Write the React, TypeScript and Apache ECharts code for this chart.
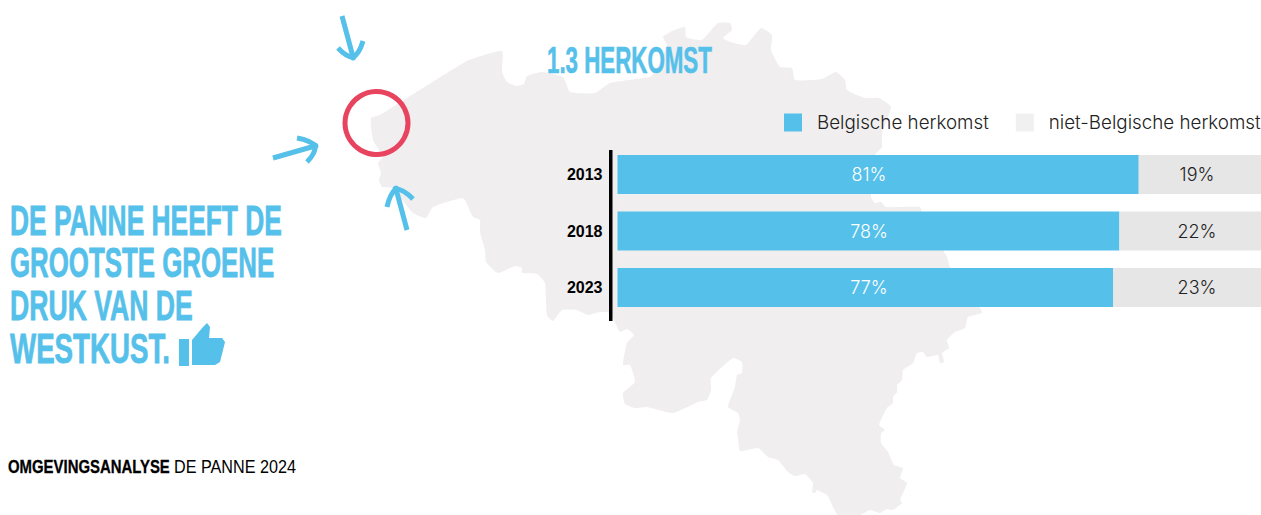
import React, { useEffect, useRef } from "react";
import * as echarts from "echarts";

const years = ["2013", "2018", "2023"];
const belgian = [81, 78, 77];
const nonBelgian = [19, 22, 23];
const seriesNames = ["Belgische herkomst", "niet-Belgische herkomst"];

const BLUE = "#55c0ea";
const MAP = "#f0eeef";
const HEAVY = '"Liberation Sans", Roboto, sans-serif';
const BODY = 'Inter, "Noto Sans", sans-serif';

const GRID_LEFT = 617.5;
const GRID_W = 643.5;
const LABEL_A = 869 - GRID_LEFT;
const LABEL_B = 1197 - GRID_LEFT;

const belgiumOutline = [
  [371, 118], [380, 115], [467, 61], [502, 51], [502, 72], [507, 82], [517, 86], [524, 84], [527, 76], [542, 72],
  [563, 77], [570, 92], [595, 93], [610, 83], [650, 77], [655, 72], [661, 60], [667, 45], [663, 37], [672, 31],
  [685, 27], [686, 37], [702, 40], [718, 23], [730, 23], [732, 30], [723, 38], [730, 42], [746, 45], [761, 28], [772, 35], [771, 50], [780, 67],
  [792, 68], [795, 80], [822, 79], [836, 72], [845, 80], [847, 90], [865, 98], [879, 98], [891, 107], [882, 133],
  [882, 147], [875, 155], [871, 197], [875, 203], [881, 202], [886, 207], [920, 207], [922, 212], [947, 257],
  [950, 267], [980, 308], [982, 313], [968, 317], [965, 328], [955, 332], [947, 340], [949, 348], [942, 353],
  [944, 362], [940, 363], [938, 355], [927, 357], [923, 352], [917, 353], [913, 363], [903, 370], [902, 380],
  [897, 385], [897, 392], [893, 397], [893, 403], [887, 408], [879, 425], [885, 430], [881, 433], [881, 443],
  [888, 452], [894, 465], [903, 468], [900, 478], [907, 483], [900, 500], [902, 503], [893, 510], [887, 509],
  [880, 513], [870, 510], [860, 515], [838, 515], [833, 507], [827, 495], [817, 490], [815, 493], [812, 492],
  [813, 483], [805, 474], [795, 476], [788, 472], [778, 460], [768, 457], [758, 448], [740, 451], [738, 437],
  [737, 433], [740, 420], [738, 413], [728, 407], [735, 387], [737, 375], [742, 373], [742, 362], [733, 358],
  [711, 378], [711, 390], [707, 400], [698, 402], [673, 413], [647, 407], [635, 408], [625, 404], [623, 393],
  [635, 382], [630, 365], [623, 365], [627, 343], [634, 335], [627, 329], [620, 332], [610, 313], [600, 312],
  [588, 315], [577, 310], [562, 310], [553, 321], [547, 315], [545, 283], [537, 274], [522, 273], [522, 268],
  [515, 266], [498, 273], [486, 262], [485, 250], [480, 232], [480, 220], [473, 217], [465, 200], [462, 198],
  [440, 204], [432, 208], [426, 218], [413, 213], [392, 188], [382, 187], [379, 180], [381, 173], [378, 163],
  [383, 157], [373, 140],
];

const thumbHand = [
  [192, 340], [203, 327], [207, 323], [210, 327], [209, 338], [222, 338], [225, 342], [220, 362], [215, 365], [192, 365],
];

const arrows = [
  { tail: [342, 16], tip: [353, 57], a: [338, 48], b: [363, 41] },
  { tail: [273, 158], tip: [315, 146], a: [297, 138], b: [307, 162] },
  { tail: [407, 230], tip: [396, 189], a: [387, 207], b: [413, 199] },
];

const headline = [
  { text: "DE PANNE HEEFT DE", x: 10, base: 242, width: 272 },
  { text: "GROOTSTE GROENE", x: 10, base: 284, width: 264 },
  { text: "DRUK VAN DE", x: 10, base: 327, width: 183 },
  { text: "WESTKUST.", x: 10, base: 370, width: 160 },
];

function fitText(text: string, x: number, base: number, width: number, font: string, fill: string, stroke = 0) {
  const ctx = document.createElement("canvas").getContext("2d")!;
  ctx.font = font;
  const w = ctx.measureText(text).width;
  return {
    type: "text", x, y: base, scaleX: width / w, z: 5,
    style: { text, font, fill, verticalAlign: "bottom", stroke: stroke ? fill : undefined, lineWidth: stroke },
  };
}

function arrowEls(ar: typeof arrows[number]) {
  const ctrl = (p: number[]) => [
    (p[0] + ar.tip[0]) / 2 + (ar.tip[0] - ar.tail[0]) * 0.12,
    (p[1] + ar.tip[1]) / 2 + (ar.tip[1] - ar.tail[1]) * 0.12,
  ];
  const style = { stroke: BLUE, lineWidth: 5, fill: "none" };
  const c1 = ctrl(ar.a), c2 = ctrl(ar.b);
  return [
    { type: "line", z: 5, shape: { x1: ar.tail[0], y1: ar.tail[1], x2: ar.tip[0], y2: ar.tip[1] }, style },
    { type: "bezierCurve", z: 5, shape: { x1: ar.a[0], y1: ar.a[1], cpx1: c1[0], cpy1: c1[1], x2: ar.tip[0], y2: ar.tip[1] }, style },
    { type: "bezierCurve", z: 5, shape: { x1: ar.b[0], y1: ar.b[1], cpx1: c2[0], cpy1: c2[1], x2: ar.tip[0], y2: ar.tip[1] }, style },
    { type: "circle", z: 5, shape: { cx: ar.tip[0], cy: ar.tip[1], r: 3.5 }, style: { fill: BLUE } },
  ];
}

export default function App() {
  const ref = useRef<HTMLDivElement>(null);
  useEffect(() => {
    document.body.style.margin = "0";
    const chart = echarts.init(ref.current!, undefined, { renderer: "svg" });
    chart.setOption({
      animation: false,
      backgroundColor: "#ffffff",
      grid: { left: GRID_LEFT, right: 0, top: 146.25, height: 169.5, containLabel: false },
      legend: {
        top: 113, left: 784, padding: 0, itemWidth: 18, itemHeight: 18, itemGap: 27,
        icon: "rect", selectedMode: false,
        textStyle: { fontFamily: BODY, fontWeight: 300, fontSize: 18.8, color: "#222", padding: [0, 0, 0, 10] },
        data: [
          { name: seriesNames[0], itemStyle: { color: BLUE } },
          { name: seriesNames[1], itemStyle: { color: "#f0f0f0" } },
        ],
      },
      xAxis: { type: "value", min: 0, max: 100, show: false },
      yAxis: {
        type: "category", data: years, inverse: true,
        axisLine: { show: false }, axisTick: { show: false },
        axisLabel: { margin: 15, color: "#000", fontFamily: HEAVY, fontWeight: "bold", fontSize: 16 },
      },
      series: [
        {
          name: seriesNames[0], type: "bar", stack: "t", barWidth: 39, itemStyle: { color: BLUE },
          data: belgian.map((v) => ({
            value: v,
            label: { offset: [LABEL_A - (v / 200) * GRID_W, 0] },
          })),
          label: { show: true, position: "inside", formatter: "{c}%", color: "#fff", fontFamily: BODY, fontWeight: 300, fontSize: 18 },
        },
        {
          name: seriesNames[1], type: "bar", stack: "t", barWidth: 39, itemStyle: { color: "#e6e6e6" },
          data: nonBelgian.map((v, i) => ({
            value: v,
            label: { offset: [LABEL_B - ((belgian[i] + v / 2) / 100) * GRID_W, 0] },
          })),
          label: { show: true, position: "inside", formatter: "{c}%", color: "#222", fontFamily: BODY, fontWeight: 300, fontSize: 18 },
        },
      ],
      graphic: {
        elements: [
          { type: "polygon", z: -1, shape: { points: belgiumOutline, smooth: 0.15 }, style: { fill: MAP } },
          { type: "rect", z: 5, shape: { x: 609, y: 150, width: 3.5, height: 171 }, style: { fill: "#000" } },
          { type: "circle", z: 5, shape: { cx: 376.5, cy: 123, r: 31.5 }, style: { fill: "none", stroke: "#e8435f", lineWidth: 5 } },
          ...arrows.flatMap(arrowEls),
          fitText("1.3 HERKOMST", 547, 78, 165, `bold 36px ${HEAVY}`, BLUE, 0.6),
          ...headline.map((l) => fitText(l.text, l.x, l.base, l.width, `bold 43px ${HEAVY}`, BLUE, 0.8)),
          { type: "rect", z: 5, shape: { x: 179, y: 339, width: 10, height: 27 }, style: { fill: BLUE } },
          { type: "polygon", z: 5, shape: { points: thumbHand }, style: { fill: BLUE } },
          fitText("OMGEVINGSANALYSE", 8, 476, 162, `bold 18px ${HEAVY}`, "#000", 0.3),
          fitText("DE PANNE 2024", 174, 476, 122, `18px ${HEAVY}`, "#000"),
        ],
      },
    });
    return () => chart.dispose();
  }, []);
  return <div ref={ref} style={{ width: 1261, height: 515 }} />;
}
